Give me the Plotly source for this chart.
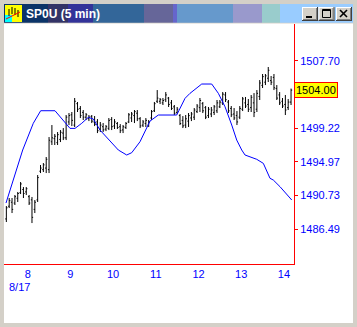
import numpy as np
import plotly.graph_objects as go

# ---------------- data ----------------
bar_times = 7.5 + np.arange(101) / 15.0   # bar timestamps in hours (8/17)

bar_open = [1487.8,1489.4,1489.9,1489.8,1490.4,1491.1,1491.5,1491.2,1490.6,1490.2,
            1489.0,1490.2,1493.8,1494.0,1494.2,1494.0,1497.5,1497.9,1497.4,1497.8,
            1498.6,1498.0,1500.0,1500.9,1499.6,1502.3,1501.7,1501.2,1500.6,1500.4,
            1500.7,1500.0,1500.0,1499.1,1499.4,1499.1,1499.2,1500.3,1499.5,1499.8,
            1499.4,1499.0,1499.3,1500.0,1500.5,1500.8,1501.1,1500.4,1499.6,1499.8,
            1499.6,1500.5,1501.4,1502.6,1502.6,1502.4,1502.8,1503.0,1502.4,1501.9,
            1501.2,1500.8,1500.2,1499.6,1500.1,1500.5,1500.6,1501.3,1501.8,1502.3,
            1501.8,1500.8,1501.0,1501.2,1501.4,1501.9,1502.4,1503.4,1502.5,1501.7,
            1501.0,1500.8,1500.6,1501.6,1502.4,1502.2,1501.8,1502.4,1501.6,1503.2,
            1504.6,1505.0,1505.5,1505.2,1505.6,1504.2,1503.4,1502.6,1502.2,1501.8,
            1502.5]
bar_high = [1489.42,1490.43,1490.43,1490.81,1491.19,1492.44,1491.81,1491.81,1490.81,1490.56,
            1490.18,1493.32,1494.58,1494.83,1495.59,1498.10,1499.61,1498.48,1498.73,1498.98,
            1499.23,1500.87,1501.12,1501.25,1503.01,1502.51,1502.00,1501.50,1501.12,1500.87,
            1500.87,1500.74,1500.36,1499.99,1499.86,1499.61,1500.49,1500.61,1500.36,1499.99,
            1499.73,1499.61,1499.99,1501.12,1501.25,1501.50,1501.50,1500.61,1500.24,1500.49,
            1500.24,1501.50,1502.51,1504.01,1503.01,1503.01,1503.76,1503.14,1502.76,1502.13,
            1501.88,1500.99,1500.74,1500.87,1501.12,1501.25,1501.75,1502.25,1503.01,1502.51,
            1502.00,1501.88,1501.88,1502.13,1502.76,1502.76,1503.76,1503.76,1502.76,1502.00,
            1501.75,1501.37,1502.00,1503.14,1503.14,1502.88,1503.39,1503.63,1504.01,1505.27,
            1506.03,1506.03,1506.91,1505.78,1506.03,1504.64,1503.76,1503.01,1503.39,1502.88,
            1504.20]
bar_low = [1487.41,1489.17,1488.54,1489.55,1489.93,1490.93,1490.43,1490.81,1489.55,1487.28,
           1488.54,1489.93,1493.57,1493.70,1493.57,1493.57,1497.10,1497.10,1497.10,1497.47,
           1497.72,1497.72,1499.61,1499.48,1499.36,1501.25,1500.49,1500.24,1500.24,1500.11,
           1499.86,1499.48,1498.60,1498.73,1498.73,1498.85,1498.98,1498.98,1499.11,1499.11,
           1498.60,1498.60,1499.11,1499.86,1499.99,1499.86,1500.11,1499.23,1499.36,1499.36,
           1499.36,1500.24,1501.25,1502.38,1502.25,1502.13,1502.51,1501.88,1501.50,1500.87,
           1500.99,1499.61,1499.23,1499.23,1499.36,1500.11,1500.24,1501.12,1501.25,1501.12,
           1500.36,1500.49,1500.61,1500.87,1501.12,1501.75,1502.13,1502.51,1501.12,1500.61,
           1500.24,1499.61,1500.36,1501.37,1501.75,1501.25,1501.25,1500.61,1501.25,1502.76,
           1504.27,1504.64,1505.02,1504.64,1504.01,1502.76,1502.13,1501.75,1500.87,1501.50,
           1502.13]
bar_close = [1489.2,1490.1,1489.0,1490.6,1491.0,1492.2,1491.0,1491.6,1489.8,1488.0,
             1489.9,1493.0,1494.2,1494.6,1495.3,1497.7,1498.0,1498.2,1498.4,1498.7,
             1498.0,1500.6,1500.8,1500.2,1502.6,1501.6,1500.8,1500.6,1500.9,1500.6,
             1500.1,1499.7,1498.9,1499.6,1499.0,1499.4,1500.2,1499.4,1500.0,1499.3,
             1498.9,1499.4,1499.8,1500.9,1501.0,1501.3,1500.4,1499.5,1500.0,1500.2,
             1500.0,1501.3,1502.3,1503.0,1502.8,1502.7,1503.4,1502.2,1501.7,1501.1,
             1501.6,1499.8,1499.5,1500.4,1500.8,1501.0,1501.5,1502.0,1502.7,1501.4,
             1500.6,1501.6,1501.5,1501.9,1502.4,1502.5,1503.5,1502.8,1501.4,1500.9,
             1500.5,1500.0,1501.7,1502.9,1502.0,1501.6,1503.1,1501.2,1503.6,1504.9,
             1505.7,1505.8,1506.5,1505.0,1504.3,1503.0,1502.4,1502.0,1501.5,1502.5,
             1504.00]

avg_times = [7.492,7.663,7.883,8.131,8.304,8.639,8.874,8.991,9.108,9.265,9.419,9.536,
             9.693,10.005,10.122,10.318,10.436,10.630,10.864,11.059,11.489,11.684,11.801,
             12.075,12.309,12.464,12.621,12.778,12.895,13.012,13.089,13.363,13.518,13.674,
             13.752,13.909,14.183]
avg_values = [1489.80,1492.69,1496.47,1499.83,1501.41,1501.41,1499.83,1499.19,1499.19,
              1499.83,1500.58,1500.37,1498.98,1497.10,1496.47,1495.84,1496.13,1497.51,
              1500.11,1500.87,1500.87,1502.97,1503.60,1504.77,1504.77,1503.60,1501.91,
              1499.61,1497.72,1496.47,1495.84,1495.30,1494.79,1492.91,1492.69,1491.85,
              1490.18]

x_tick_vals = [8, 9, 10, 11, 12, 13, 14]
x_tick_text = ["8", "9", "10", "11", "12", "13", "14"]
y_tick_vals = [1486.49, 1490.73, 1494.97, 1499.22, 1507.70]
y_tick_text = ["1486.49", "1490.73", "1494.97", "1499.22", "1507.70"]
last_price = 1504.00
date_label = "8/17"
window_title = "SP0U (5 min)"

# ---------------- layout helpers ----------------
W, H = 357, 327
L, R, T, B = 4, 294, 24, 264


def px(X):
    return (X - L) / (R - L)


def py(Y):
    return (B - Y) / (B - T)


def rect(x0, y0, x1, y1, fill, line=None, width=0, layer="above"):
    d = dict(type="rect", xref="paper", yref="paper",
             x0=px(x0), x1=px(x1), y0=py(y1), y1=py(y0),
             fillcolor=fill, layer=layer,
             line=dict(width=width, color=line or fill))
    return d


def seg(x0, y0, x1, y1, color, width=1):
    return dict(type="line", xref="paper", yref="paper",
                x0=px(x0), x1=px(x1), y0=py(y0), y1=py(y1),
                line=dict(color=color, width=width), layer="above")


fig = go.Figure()
fig.add_trace(go.Ohlc(
    x=bar_times, open=bar_open, high=bar_high, low=bar_low, close=bar_close,
    increasing=dict(line=dict(color="black", width=1)),
    decreasing=dict(line=dict(color="black", width=1)),
    tickwidth=0.4, hoverinfo="skip", showlegend=False))
fig.add_trace(go.Scatter(
    x=avg_times, y=avg_values, mode="lines",
    line=dict(color="#0000ff", width=1), hoverinfo="skip", showlegend=False))

shapes = []
# client area
shapes.append(rect(4, 23.5, 353, 323, "white", layer="below"))
# title bar gradient blocks
blocks = [(4, 48, "#0c3468"), (48, 68, "#333366"), (68, 93, "#333399"),
          (93, 144, "#336699"), (144, 173, "#666699"), (173, 177, "#6666cc"),
          (177, 233, "#6699cc"), (233, 262, "#9999cc"), (262, 280, "#99cccc"),
          (280, 353, "#99ccff")]
for x0, x1, c in blocks:
    shapes.append(rect(x0, 4, x1, 22.7, c))
# icon
shapes.append(rect(5, 5, 22, 22, "#ffff00"))
shapes.append(rect(5, 15, 12, 22, "#00ffff"))
for xx, y0, y1 in [(9, 9, 16), (12, 7, 14), (15, 8, 15), (18, 10, 17)]:
    shapes.append(seg(xx, y0, xx, y1, "black", 1))
shapes.append(seg(6, 19, 20, 12, "#ff0000", 1))
# buttons
for bx0, bx1 in [(302, 318), (318.5, 334.5), (336, 352)]:
    shapes.append(rect(bx0, 7, bx1, 21, "#d4d0c8"))
    shapes.append(seg(bx0, 7.5, bx1, 7.5, "white"))
    shapes.append(seg(bx0 + 0.5, 7, bx0 + 0.5, 21, "white"))
    shapes.append(seg(bx0, 20.5, bx1, 20.5, "#404040"))
    shapes.append(seg(bx1 - 0.5, 7, bx1 - 0.5, 21, "#404040"))
    shapes.append(seg(bx0 + 1, 19.5, bx1 - 1, 19.5, "#808080"))
    shapes.append(seg(bx1 - 1.5, 8, bx1 - 1.5, 20, "#808080"))
shapes.append(rect(306, 16, 312, 18, "black"))
shapes.append(rect(322.5, 9.5, 330.5, 17.5, "rgba(0,0,0,0)", line="black", width=1))
shapes.append(seg(322.5, 10.5, 330.5, 10.5, "black", 1))
shapes.append(seg(340, 10, 347, 17, "black", 1.6))
shapes.append(seg(347, 10, 340, 17, "black", 1.6))

annotations = [
    dict(xref="paper", yref="y", x=1.0, y=last_price, xanchor="left", yanchor="middle",
         text=f"{last_price:.2f}", showarrow=False, bgcolor="#ffff00",
         bordercolor="#ff0000", borderwidth=1, borderpad=1,
         font=dict(family="Liberation Sans, Arial, sans-serif", size=11, color="black")),
    dict(xref="paper", yref="paper", x=px(7), y=py(287), xanchor="left", yanchor="middle",
         text=date_label, showarrow=False,
         font=dict(family="Liberation Sans, Arial, sans-serif", size=11, color="#0000ff")),
    dict(xref="paper", yref="paper", x=px(24), y=py(14), xanchor="left", yanchor="middle",
         text=f"<b>{window_title}</b>", showarrow=False,
         font=dict(family="Liberation Sans, Arial, sans-serif", size=12, color="white")),
]

fig.update_layout(
    width=W, height=H,
    margin=dict(l=L, r=W - R, t=T, b=H - B, pad=0),
    paper_bgcolor="#d4d0c8", plot_bgcolor="white",
    font=dict(family="Liberation Sans, Arial, sans-serif", size=11, color="#0000ff"),
    shapes=shapes, annotations=annotations, showlegend=False,
    xaxis=dict(range=[7.445, 14.236], tickvals=x_tick_vals, ticktext=x_tick_text,
               showgrid=False, zeroline=False, showline=True, linecolor="#ff0000",
               linewidth=1, ticks="", rangeslider=dict(visible=False),
               tickfont=dict(size=11, color="#0000ff"), fixedrange=True),
    yaxis=dict(range=[1482.13, 1512.32], side="right", tickvals=y_tick_vals,
               ticktext=y_tick_text, showgrid=False, zeroline=False, showline=True,
               linecolor="#ff0000", linewidth=1, ticks="outside", ticklen=3,
               tickcolor="#ff0000", tickfont=dict(size=11, color="#0000ff"),
               fixedrange=True),
)

fig.write_html("out.html", config=dict(displayModeBar=False))
